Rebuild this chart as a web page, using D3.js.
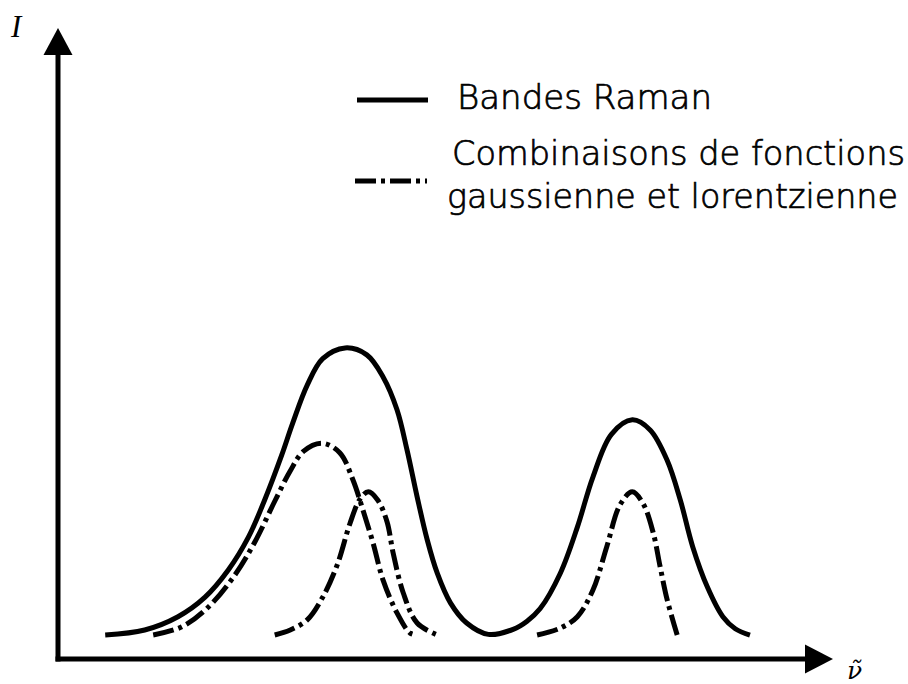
<!DOCTYPE html>
<html>
<head>
<meta charset="utf-8">
<script src="https://cdn.jsdelivr.net/npm/d3@7"></script>
<style>
html,body{margin:0;padding:0;background:#fff;}
svg{display:block;}
</style>
</head>
<body>
<svg id="chart" width="908" height="684"></svg>
<script>
// Raman band envelope (solid)
const ramanNu = [6.1, 11.2, 15.5, 19.0, 22.0, 24.6, 26.7, 28.9, 30.3, 32.2, 34.2, 37.1, 39.9, 42.0, 43.8, 45.1, 46.4, 47.7, 49.0, 50.7, 52.8, 55.6, 58.8, 60.6, 62.3, 64.9, 67.1, 69.1, 71.5, 74.2, 76.5, 78.7, 80.4, 82.0, 83.9, 85.9, 87.5, 89.4];
const ramanI  = [3.8, 4.6, 6.7, 9.8, 14.1, 19.3, 25.2, 32.3, 37.3, 43.4, 47.6, 49.3, 48.2, 44.7, 39.5, 33.1, 25.7, 18.9, 13.6, 8.9, 5.7, 3.9, 4.7, 6.0, 8.0, 13.6, 20.9, 28.8, 35.6, 37.9, 36.3, 31.5, 25.2, 17.8, 11.4, 6.7, 4.8, 3.8];

// Gaussian/Lorentzian component bands (dash-dot)
const compANu = [12.3, 16.0, 19.4, 22.9, 25.5, 28.0, 30.0, 31.7, 34.1, 36.4, 38.1, 39.4, 40.7, 42.0, 43.8, 45.5, 46.4];
const compAI  = [3.8, 5.1, 8.2, 13.4, 18.7, 25.0, 29.8, 32.9, 34.2, 32.7, 28.4, 23.6, 18.4, 12.5, 7.3, 4.1, 3.8];

const compBNu = [28.0, 30.0, 32.2, 34.2, 36.1, 37.7, 39.0, 40.1, 41.3, 42.5, 43.3, 44.6, 46.4, 49.0];
const compBI  = [3.8, 4.6, 6.2, 9.8, 15.0, 21.4, 25.3, 26.5, 25.2, 21.8, 16.8, 10.5, 5.7, 3.8];

const compCNu = [61.9, 64.9, 67.1, 69.1, 70.9, 72.6, 74.2, 75.6, 76.9, 77.8, 78.7, 80.0];
const compCI  = [3.8, 4.9, 6.7, 10.9, 17.8, 24.4, 26.5, 24.6, 20.0, 14.6, 9.4, 3.8];

const legendLabels = ["Bandes Raman", "Combinaisons de fonctions", "gaussienne et lorentzienne"];
const axisLabels = {y: "I", x: "\u03BD\u0303"};

const svg = d3.select("#chart");
const x = d3.scaleLinear().domain([0, 100]).range([58, 832]);
const y = d3.scaleLinear().domain([0, 100]).range([659, 28]);

const line = d3.line().x(d => x(d[0])).y(d => y(d[1])).curve(d3.curveCatmullRom.alpha(0.5));
const zip = (a, b) => a.map((v, i) => [v, b[i]]);
const DASH = "21,5,4,5";

// curves
svg.append("path").attr("d", line(zip(ramanNu, ramanI)))
  .attr("fill", "none").attr("stroke", "#000").attr("stroke-width", 5);
[[compANu, compAI], [compBNu, compBI], [compCNu, compCI]].forEach(([a, b]) => {
  svg.append("path").attr("d", line(zip(a, b)))
    .attr("fill", "none").attr("stroke", "#000").attr("stroke-width", 5)
    .attr("stroke-dasharray", DASH);
});

// axes
const x0 = x(0), y0 = y(0), xEnd = x(100), yEnd = y(100);
svg.append("line").attr("x1", x0).attr("y1", y0 + 2.5).attr("x2", x0).attr("y2", yEnd + 27)
  .attr("stroke", "#000").attr("stroke-width", 5);
svg.append("line").attr("x1", x0 - 2.5).attr("y1", y0).attr("x2", xEnd - 27).attr("y2", y0)
  .attr("stroke", "#000").attr("stroke-width", 5);
svg.append("path").attr("d", `M${x0},${yEnd} L${x0 - 14.5},${yEnd + 27} L${x0 + 14.5},${yEnd + 27} Z`).attr("fill", "#000");
svg.append("path").attr("d", `M${xEnd + 1},${y0} L${xEnd - 27},${y0 - 14.5} L${xEnd - 27},${y0 + 14.5} Z`).attr("fill", "#000");

// axis labels
svg.append("text").attr("x", 11).attr("y", 37).text(axisLabels.y)
  .attr("font-family", "Liberation Serif").attr("font-style", "italic").attr("font-size", 31);
svg.append("text").attr("x", 847).attr("y", 679).text(axisLabels.x)
  .attr("font-family", "DejaVu Serif").attr("font-style", "italic").attr("font-size", 25);

// legend
svg.append("line").attr("x1", 357).attr("x2", 428).attr("y1", 100).attr("y2", 100)
  .attr("stroke", "#000").attr("stroke-width", 5);
svg.append("line").attr("x1", 355).attr("x2", 427).attr("y1", 181).attr("y2", 181)
  .attr("stroke", "#000").attr("stroke-width", 5).attr("stroke-dasharray", DASH);

const lg = [[457, 109, 255], [452, 165, 453], [447, 208, 451]];
legendLabels.forEach((t, i) => {
  svg.append("text").attr("x", lg[i][0]).attr("y", lg[i][1]).text(t)
    .attr("font-family", "DejaVu Sans").attr("font-weight", 300).attr("font-size", 33)
    .attr("stroke", "#000").attr("stroke-width", 0.7)
    .attr("textLength", lg[i][2]).attr("lengthAdjust", "spacingAndGlyphs");
});
</script>
</body>
</html>
